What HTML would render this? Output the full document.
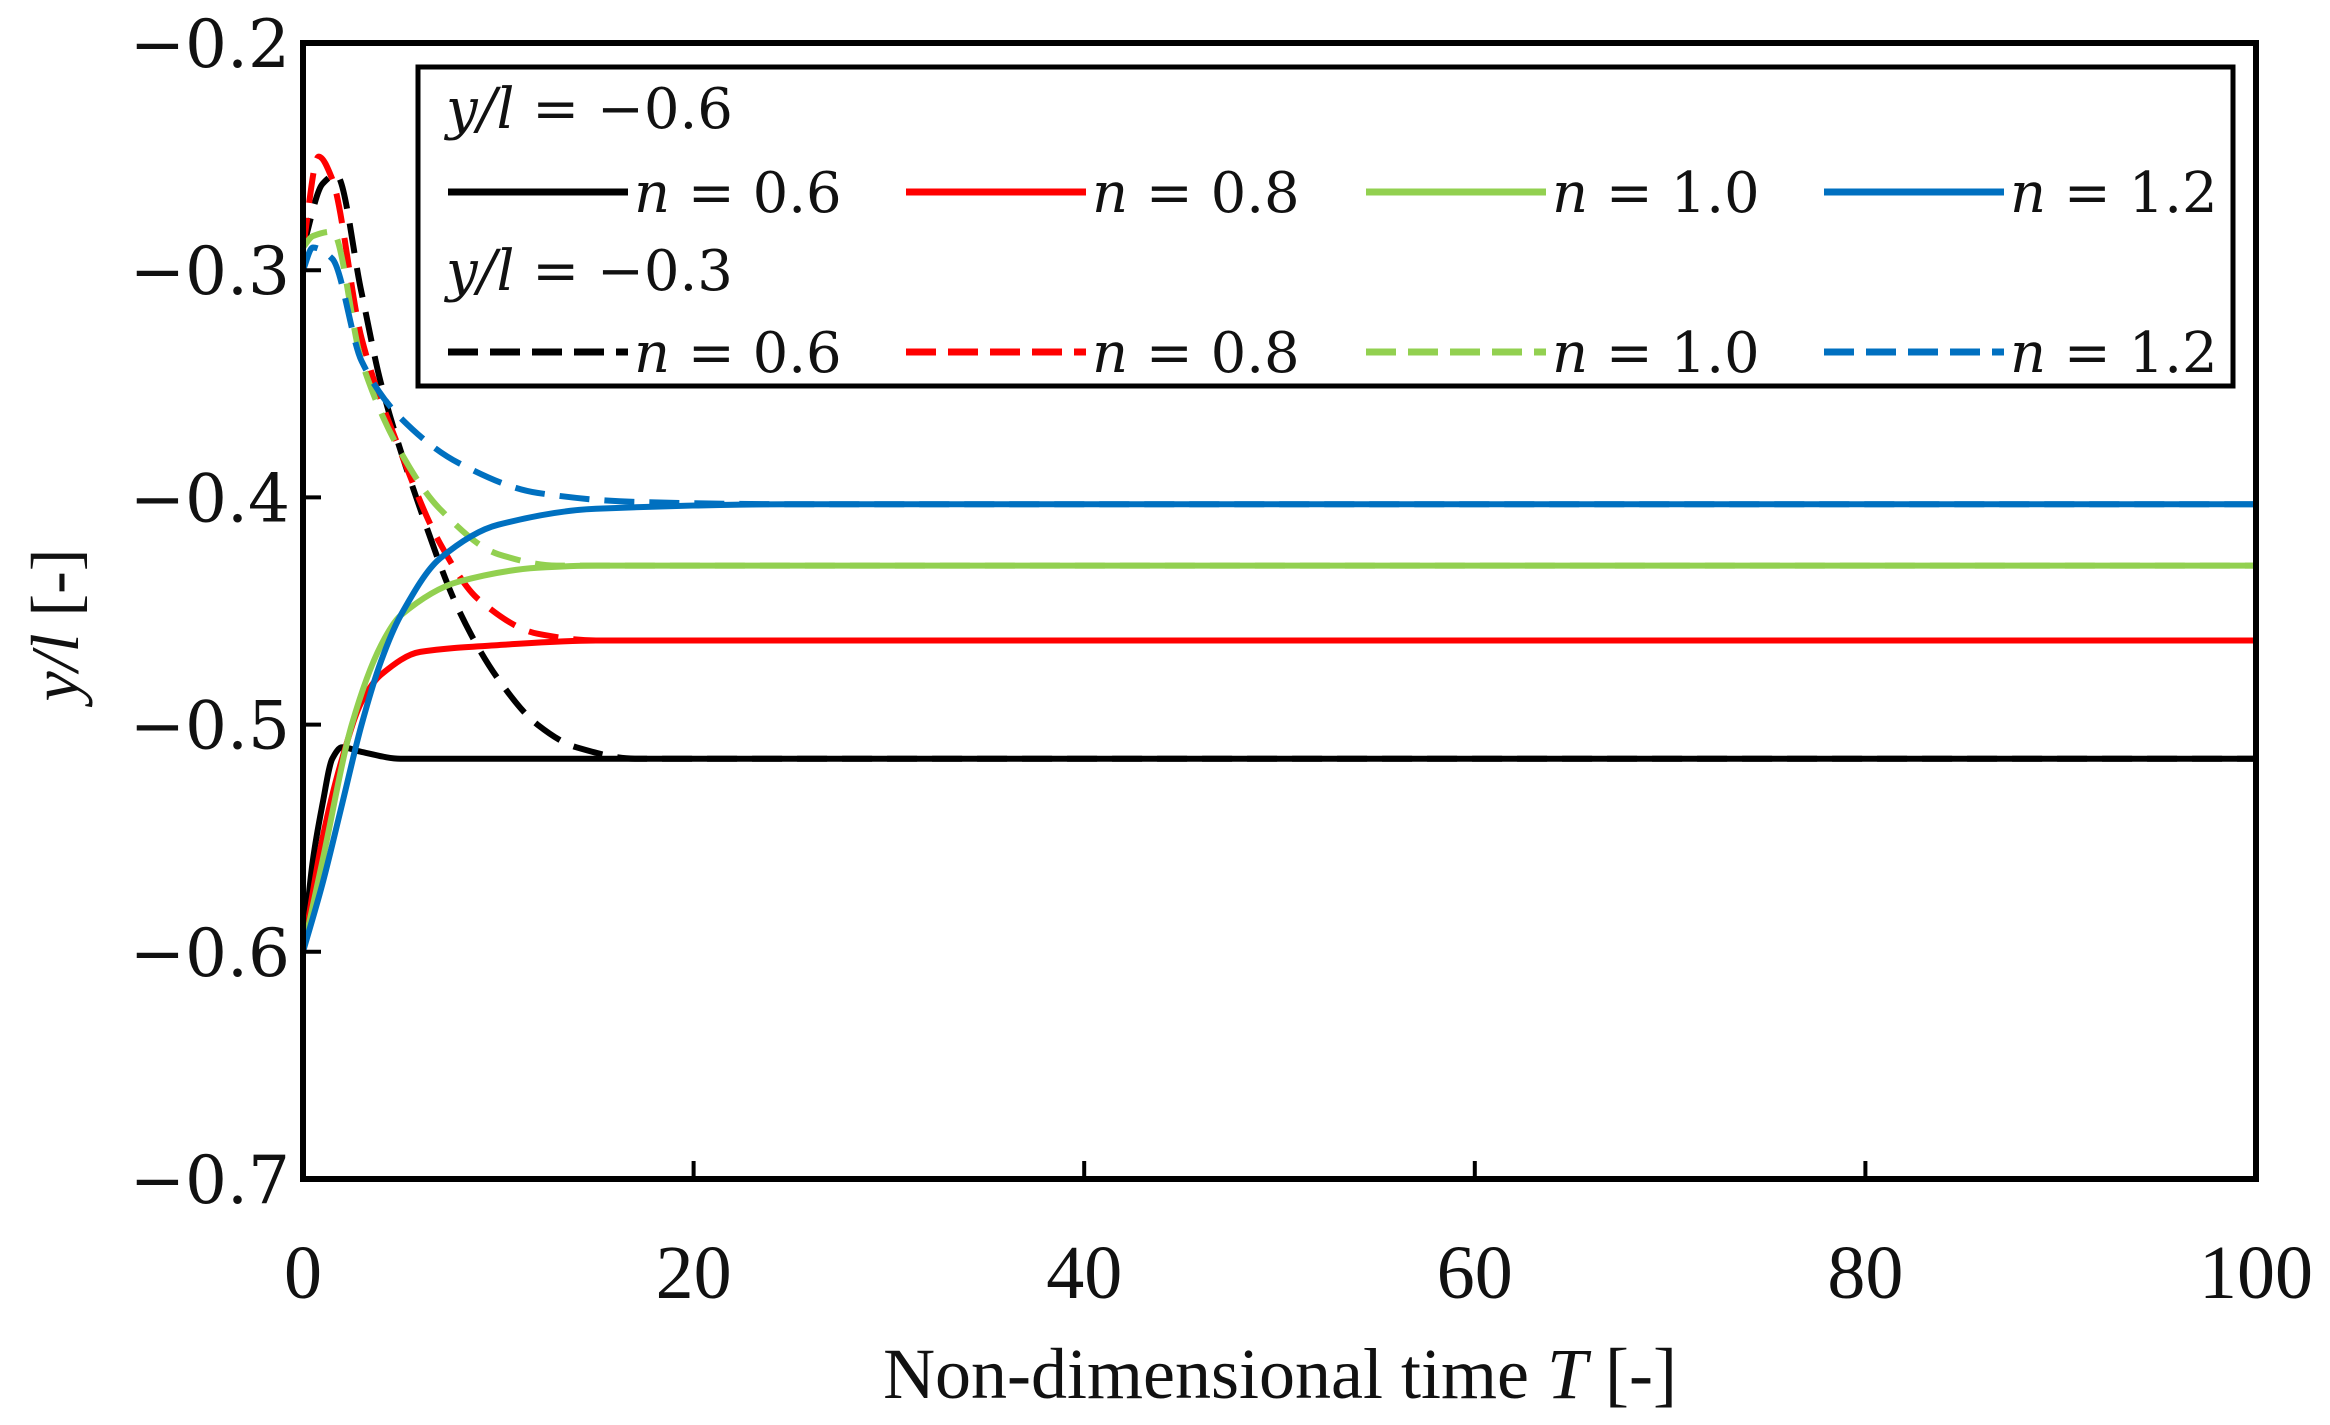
<!DOCTYPE html>
<html><head><meta charset="utf-8"><style>
html,body{margin:0;padding:0;background:#fff;}
svg{display:block;}
</style></head><body>
<svg id="chart" width="2330" height="1425" viewBox="0 0 2330 1425" xmlns="http://www.w3.org/2000/svg">
<g id="marks"></g>
<g id="axes"></g>
</svg>
<script>
const xTicks=[0,20,40,60,80,100];
const yTicks=[-0.2,-0.3,-0.4,-0.5,-0.6,-0.7];
const yTickLabels=["\u22120.2","\u22120.3","\u22120.4","\u22120.5","\u22120.6","\u22120.7"];
const colors=["#000000","#ff0000","#92d050","#0070c0"];
const nLabels=["0.6","0.8","1.0","1.2"];
// solid: y/l = -0.6 start
const solidT=[[0,0.5,1,1.5,2,3,5,10,100],[0,1,2,3,4,6,10,15,100],[0,1,2.5,4,5,8,12,15,100],[0,1,2,3,4,5,7,10,15,25,100]];
const solidY=[[-0.6,-0.56,-0.535,-0.515,-0.51,-0.512,-0.515,-0.515,-0.515],[-0.6,-0.55,-0.515,-0.49,-0.478,-0.468,-0.465,-0.463,-0.463],[-0.6,-0.56,-0.5,-0.465,-0.452,-0.437,-0.431,-0.43,-0.43],[-0.6,-0.57,-0.535,-0.5,-0.472,-0.452,-0.427,-0.412,-0.405,-0.403,-0.403]];
// dashed: y/l = -0.3 start
const dashT=[[0,1,1.7,3,4,6,8,10,12,14,17,100],[0,0.8,1.5,3,5,7,9,12,15,100],[0,0.5,1.5,3,5,7,10,13,100],[0,0.5,1.5,3,5,8,12,17,25,100]];
const dashY=[[-0.29,-0.262,-0.258,-0.31,-0.35,-0.405,-0.45,-0.48,-0.5,-0.51,-0.515,-0.515],[-0.29,-0.25,-0.26,-0.33,-0.38,-0.42,-0.445,-0.46,-0.463,-0.463],[-0.29,-0.285,-0.283,-0.34,-0.38,-0.405,-0.425,-0.43,-0.43],[-0.3,-0.29,-0.295,-0.34,-0.365,-0.385,-0.398,-0.402,-0.403,-0.403]];

const X0=303,X1=2256,Y0=43,Y1=1179;
const sx=t=>X0+(t-0)/(100-0)*(X1-X0);
const sy=v=>Y0+(-0.2-v)/(0.5)*(Y1-Y0);
const NS="http://www.w3.org/2000/svg";
const marks=document.getElementById('marks'),axes=document.getElementById('axes');
function mk(tag,attrs,parent){const e=document.createElementNS(NS,tag);for(const k in attrs)e.setAttribute(k,attrs[k]);parent.appendChild(e);return e;}
// monotone cubic path
function pathD(ts,ys){
  const x=ts.map(sx),y=ys.map(sy),n=x.length;
  const d=[],m=new Array(n);
  for(let i=0;i<n-1;i++)d.push((y[i+1]-y[i])/(x[i+1]-x[i]));
  m[0]=d[0];m[n-1]=d[n-2];
  for(let i=1;i<n-1;i++)m[i]=(d[i-1]*d[i]<=0)?0:(2/(1/d[i-1]+1/d[i]));
  let s='M'+x[0].toFixed(1)+','+y[0].toFixed(1);
  for(let i=0;i<n-1;i++){
    const h=(x[i+1]-x[i])/3;
    s+=' C'+(x[i]+h).toFixed(1)+','+(y[i]+m[i]*h).toFixed(1)+' '+(x[i+1]-h).toFixed(1)+','+(y[i+1]-m[i+1]*h).toFixed(1)+' '+x[i+1].toFixed(1)+','+y[i+1].toFixed(1);
  }
  return s;
}
for(let i=0;i<4;i++){
  const p=mk('path',{d:pathD(dashT[i],dashY[i]),fill:'none',stroke:colors[i],'stroke-width':6,'stroke-dasharray':'30,15','stroke-linejoin':'round'},marks);
  
  
}
for(let i=0;i<4;i++){
  const p=mk('path',{d:pathD(solidT[i],solidY[i]),fill:'none',stroke:colors[i],'stroke-width':6,'stroke-linejoin':'round'},marks);
  
  
}
const fr=mk('rect',{x:X0,y:Y0,width:X1-X0,height:Y1-Y0,fill:'none',stroke:'#000','stroke-width':6},axes);


xTicks.forEach(t=>{
  const l=mk('line',{x1:sx(t),x2:sx(t),y1:Y1,y2:Y1-18,stroke:'#000','stroke-width':4},axes);
  
  
  const tx=mk('text',{x:sx(t),y:1298,'text-anchor':'middle','font-family':'Liberation Serif, serif','font-size':76,fill:'#111'},axes);
  tx.textContent=t;
  
  
});
yTicks.forEach((v,i)=>{
  const l=mk('line',{x1:X0,x2:X0+18,y1:sy(v),y2:sy(v),stroke:'#000','stroke-width':4},axes);
  
  
  const tx=mk('text',{x:290,y:sy(v)+24,'text-anchor':'end','font-family':'DejaVu Serif, serif','font-size':66,fill:'#111'},axes);
  tx.textContent=yTickLabels[i];
  
  
});
const xt=mk('text',{x:1280,y:1398,'text-anchor':'middle','font-family':'Liberation Serif, serif','font-size':72,fill:'#111'},axes);
xt.innerHTML='Non-dimensional time <tspan font-style="italic">T</tspan> [-]';


const yt=mk('text',{x:0,y:0,'text-anchor':'middle','font-family':'Liberation Serif, serif','font-size':68,fill:'#111',transform:'translate(78,625) rotate(-90)'},axes);
yt.innerHTML='<tspan font-style="italic">y/l</tspan> [-]';


// legend
const lg=mk('g',{},axes);


mk('rect',{x:418,y:67,width:1815,height:319,fill:'#fff',stroke:'#000','stroke-width':5},lg);
const hdr=[['\u22120.6',128],['\u22120.3',290]];
hdr.forEach(h=>{
  const t=mk('text',{x:446,y:h[1],'font-family':'DejaVu Serif, serif','font-size':56,fill:'#111'},lg);
  t.innerHTML='<tspan font-style="italic">y/l</tspan> = '+h[0];
  
  
});
const lineX=[448,906,1366,1824], rowY=[192,352];
for(let r=0;r<2;r++)for(let i=0;i<4;i++){
  const g=mk('g',{},lg);
  
  
  const a={x1:lineX[i],x2:lineX[i]+180,y1:rowY[r],y2:rowY[r],stroke:colors[i],'stroke-width':7};
  if(r===1)a['stroke-dasharray']='30,12';
  mk('line',a,g);
  const t=mk('text',{x:lineX[i]+186,y:rowY[r]+20,'font-family':'DejaVu Serif, serif','font-size':56,fill:'#111'},g);
  t.innerHTML='<tspan font-style="italic">n</tspan> = '+nLabels[i];
}
</script>
</body></html>
